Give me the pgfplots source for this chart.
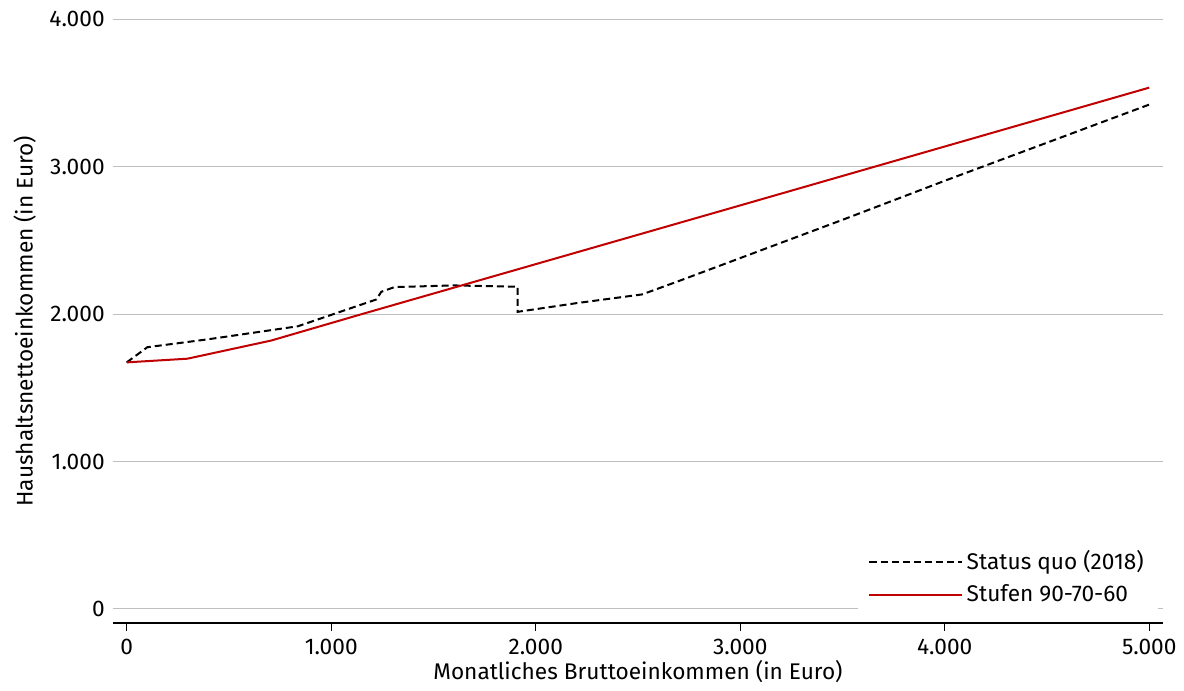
\documentclass[border=0pt]{standalone}
\usepackage{pgfplots}
\pgfplotsset{compat=1.18}
\usepackage{fontspec}
\setmainfont{Fira Sans}
\definecolor{myred}{RGB}{192,0,0}
\definecolor{mygrid}{RGB}{191,191,191}
\begin{document}
\fontsize{11.3}{13}\selectfont
\begin{tikzpicture}
\begin{axis}[
  scale only axis,
  width=524pt, height=301pt,
  xmin=-69, xmax=5069,
  ymin=-95, ymax=4000,
  separate axis lines,
  axis x line*=bottom,
  axis y line*=left,
  y axis line style={draw=none},
  x axis line style={black, line width=0.6pt, -},
  xtick={0,1000,2000,3000,4000,5000},
  ytick={0,1000,2000,3000,4000},
  ymajorgrids,
  grid style={mygrid, line width=0.5pt},
  ytick style={draw=none},
  xtick style={black, line width=0.6pt},
  xtick align=outside,
  major tick length=4pt,
  scaled ticks=false,
  /pgf/number format/.cd, 1000 sep={.}, assume math mode=true,
  /pgfplots/.cd,
  xlabel={Monatliches Bruttoeinkommen (in Euro)},
  ylabel={Haushaltsnettoeinkommen (in Euro)},
  xlabel style={yshift=5pt},
  ylabel style={yshift=-1pt},
  legend cell align=left,
  legend style={at={(0.995,0.012)}, anchor=south east, draw=none, fill=white,
    row sep=2pt, inner xsep=5pt, inner ysep=3pt},
  legend image code/.code={\draw[#1] (0pt,0pt) -- (46pt,0pt);},
]
\addplot[black, line width=1pt, dash pattern=on 3.5pt off 2pt] coordinates {
(0,1673) (101,1776) (400,1830) (837,1918) (1221,2100) (1245,2152) (1310,2184)
(1600,2195) (1912,2186) (1912,2016) (2200,2075) (2520,2134) (2700,2225)
(3500,2640) (4000,2905) (5000,3422)
};
\addlegendentry{Status quo (2018)}
\addplot[myred, line width=1pt] coordinates {
(0,1673) (297,1698) (706,1821) (1161,2005) (3000,2738) (5000,3537)
};
\addlegendentry{Stufen 90-70-60}
\end{axis}
\path ([xshift=-3pt,yshift=2pt]current bounding box.north west) circle (0pt);
\end{tikzpicture}
\end{document}
